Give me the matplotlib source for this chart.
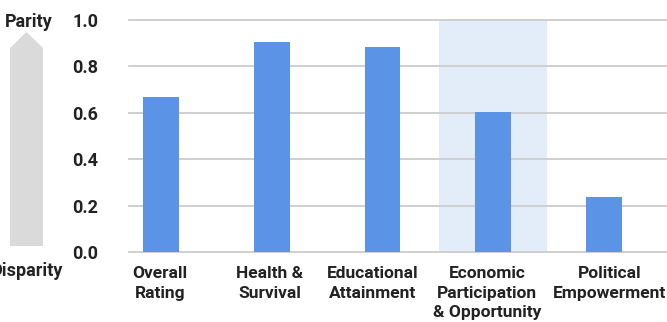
import matplotlib
matplotlib.use("Agg")
import matplotlib.pyplot as plt
from matplotlib.patches import Polygon
from matplotlib.transforms import ScaledTranslation

categories = ["Overall\nRating", "Health &\nSurvival", "Educational\nAttainment",
              "Economic\nParticipation\n& Opportunity", "Political\nEmpowerment"]
values = [0.668, 0.905, 0.884, 0.603, 0.237]
yticks = [0.0, 0.2, 0.4, 0.6, 0.8, 1.0]
highlight_index = 3

plt.rcParams['font.family'] = ['Roboto', 'DejaVu Sans']

W, H = 667, 322
fig = plt.figure(figsize=(W / 100, H / 100), dpi=100)
ax = fig.add_axes([129 / W, 1 - 252 / H, (667 - 129) / W, (252 - 20) / H])

x = list(range(len(categories)))
ax.axvspan(highlight_index - 0.49, highlight_index + 0.49, ymin=0, ymax=1,
           color="#E3EDF9", zorder=0, lw=0)
ax.bar(x, values, width=0.32, color="#5B93E6", zorder=3)

ax.set_xlim(-0.29, 4.57)
ax.set_ylim(0, 1.0)
ax.set_yticks(yticks)
ax.set_yticklabels([f"{v:.1f}" for v in yticks], fontsize=13, fontweight="bold", color="#222222")
ax.set_xticks(x)
ax.set_xticklabels(categories, fontsize=12.5, fontweight="bold", color="#222222", linespacing=1.4)
ax.tick_params(axis="y", length=0, pad=22)
ax.tick_params(axis="x", length=0, pad=10)
for s in ax.spines.values():
    s.set_visible(False)
for v in yticks:
    ax.axhline(v, color="#CCCCCC", lw=1.3, zorder=1, clip_on=False)

# small horizontal shifts of labels (pixels) as in the reference
shifts = [-1, -2, -10, -6, 6]
for lbl, dx in zip(ax.get_xticklabels(), shifts):
    lbl.set_transform(lbl.get_transform() + ScaledTranslation(dx / 100, 0, fig.dpi_scale_trans))

# Parity / Disparity arrow
def fc(px, py):
    return (px / W, 1 - py / H)

pts = [fc(10, 246), fc(10, 48), fc(26.5, 32), fc(43, 48), fc(43, 246)]
fig.patches.append(Polygon(pts, closed=True, transform=fig.transFigure,
                           facecolor="#DADADA", edgecolor="none"))
fig.text(29 / W, 1 - 27 / H, "Parity", ha="center", va="baseline",
         fontsize=13, fontweight="bold", color="#222222")
fig.text(27.5 / W, 1 - 276 / H, "Disparity", ha="center", va="baseline",
         fontsize=13, fontweight="bold", color="#222222")

fig.savefig("out.png", dpi=100)
